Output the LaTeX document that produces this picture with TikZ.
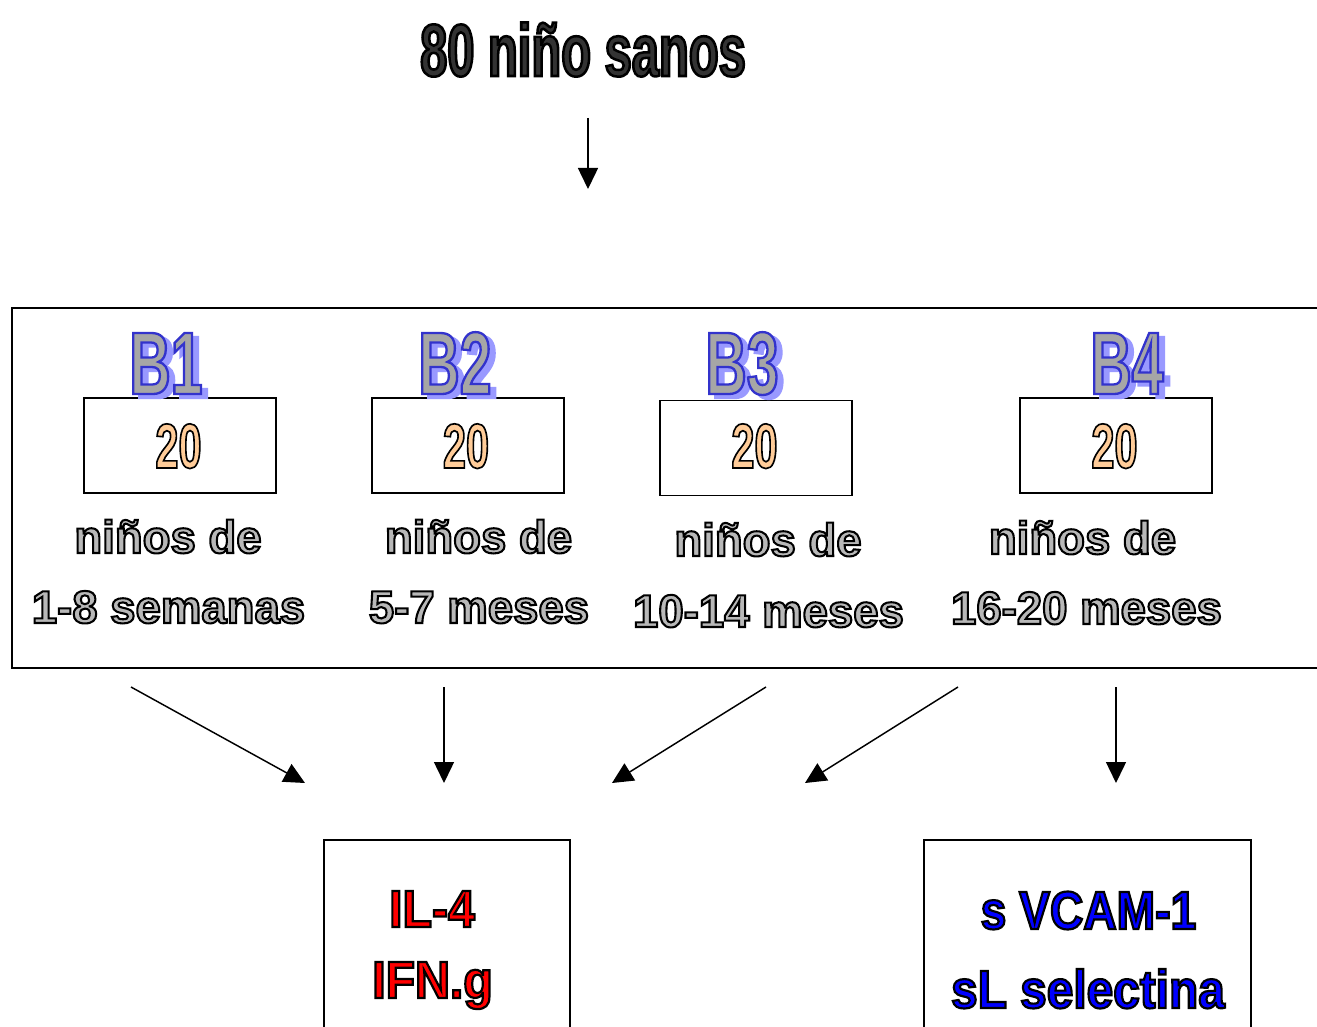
\documentclass[tikz,border=0pt]{standalone}
\usepackage{fontspec}
\usetikzlibrary{arrows.meta}
\newfontfamily\fTitle[FakeStretch=0.66,FakeBold=3.4]{Liberation Sans Bold}
\newfontfamily\fB[FakeStretch=0.645,FakeBold=2.6]{Liberation Sans Bold}
\newfontfamily\fNum[FakeStretch=0.655,FakeBold=2.6]{Liberation Sans Bold}
\newfontfamily\fGrp[FakeStretch=0.99,FakeBold=4.5]{Liberation Sans Bold}
\newfontfamily\fIL[FakeStretch=0.92,FakeBold=4.2]{Liberation Sans Bold}
\newfontfamily\fVC[FakeStretch=0.86,FakeBold=4.0]{Liberation Sans Bold}
\newfontfamily\fVCb[FakeStretch=0.89,FakeBold=4.0]{Liberation Sans Bold}
\definecolor{titlegray}{HTML}{333333}
\definecolor{grpgray}{HTML}{B8B8B8}
\definecolor{bgray}{HTML}{A6A6A6}
\definecolor{bshadow}{HTML}{9999FF}
\definecolor{peach}{HTML}{FFCC99}
\newcommand\outl[3]{{\color{#1}\special{pdf:code #2 RG}#3}}
\begin{document}
\begin{tikzpicture}[x=0.75pt,y=-0.75pt,
  arr/.style={-{Triangle[length=15.75pt,width=15pt]},line width=1.1pt},
  numbox/.style={draw,line width=1.2pt,minimum width=144pt,minimum height=71.25pt,inner sep=0pt},
  resbox/.style={draw,line width=1.5pt,inner sep=0pt},
  txt/.style={inner sep=0pt,anchor=base},
  ttl/.style={txt,font=\fTitle\fontsize{55.5}{60}\selectfont},
  blab/.style={txt,font=\fB\fontsize{66.5}{70}\selectfont},
  num/.style={txt,font=\fNum\fontsize{47.5}{50}\selectfont},
  grp/.style={txt,font=\fGrp\fontsize{34.5}{40}\selectfont},
  ilt/.style={txt,font=\fIL\fontsize{39.3}{44}\selectfont},
  vct/.style={txt,font=\fVC\fontsize{40.3}{44}\selectfont},
  vctb/.style={txt,font=\fVCb\fontsize{40.3}{44}\selectfont}]
\clip (0,0) rectangle (1317,1027);
\fill[white] (0,0) rectangle (1317,1027);

% title and first arrow
\node[ttl] (title) at (583,76) {\outl{titlegray}{0 0 0}{80 niño sanos}};
\coordinate (a0s) at (588,118);
\coordinate (a0e) at (588,189);
\draw[arr] (a0s) -- (a0e);

% big box
\node[resbox,minimum width=1000.5pt,minimum height=270pt] (big) at (679,488) {};

% group boxes
\node[numbox] (n1) at (180,445.5) {};
\node[numbox] (n2) at (468,445.5) {};
\node[numbox] (n3) at (756,448) {};
\node[numbox] (n4) at (1116,445.5) {};

% B labels (shadow then main)
\node[blab] (b1s) at (172,398) {\outl{bshadow}{0.6 0.6 1}{B1}};
\node[blab] (b1) at (166,394) {\outl{bgray}{0.2 0.2 0.8}{B1}};
\node[blab] (b2s) at (461,398) {\outl{bshadow}{0.6 0.6 1}{B2}};
\node[blab] (b2) at (455,394) {\outl{bgray}{0.2 0.2 0.8}{B2}};
\node[blab] (b3s) at (748,398) {\outl{bshadow}{0.6 0.6 1}{B3}};
\node[blab] (b3) at (742,394) {\outl{bgray}{0.2 0.2 0.8}{B3}};
\node[blab] (b4s) at (1133,398) {\outl{bshadow}{0.6 0.6 1}{B4}};
\node[blab] (b4) at (1127,394) {\outl{bgray}{0.2 0.2 0.8}{B4}};

% numbers
\node[num] (t1) at (178.5,468) {\outl{peach}{0 0 0}{20}};
\node[num] (t2) at (466,468) {\outl{peach}{0 0 0}{20}};
\node[num] (t3) at (754.5,468) {\outl{peach}{0 0 0}{20}};
\node[num] (t4) at (1114.5,468) {\outl{peach}{0 0 0}{20}};

% group descriptions
\node[grp] (g1a) at (168,553) {\outl{grpgray}{0 0 0}{niños de}};
\node[grp] (g2a) at (478.5,553) {\outl{grpgray}{0 0 0}{niños de}};
\node[grp] (g3a) at (768,556) {\outl{grpgray}{0 0 0}{niños de}};
\node[grp] (g4a) at (1082.5,554) {\outl{grpgray}{0 0 0}{niños de}};
\node[grp] (g1b) at (168.5,623) {\outl{grpgray}{0 0 0}{1-8 semanas}};
\node[grp] (g2b) at (479,623) {\outl{grpgray}{0 0 0}{5-7 meses}};
\node[grp] (g3b) at (768.5,627) {\outl{grpgray}{0 0 0}{10-14 meses}};
\node[grp] (g4b) at (1086.5,624) {\outl{grpgray}{0 0 0}{16-20 meses}};

% arrows to results
\coordinate (s1) at (131,687);  \coordinate (e1) at (305,783);
\coordinate (s2) at (444,687);  \coordinate (e2) at (444,783);
\coordinate (s3) at (766,687);  \coordinate (e3) at (612,783);
\coordinate (s4) at (958,687);  \coordinate (e4) at (805,783);
\coordinate (s5) at (1116,687); \coordinate (e5) at (1116,783);
\draw[arr] (s1) -- (e1);
\draw[arr] (s2) -- (e2);
\draw[arr] (s3) -- (e3);
\draw[arr] (s4) -- (e4);
\draw[arr] (s5) -- (e5);

% result boxes
\node[resbox,minimum width=184.5pt,minimum height=150pt] (r1) at (447,940) {};
\node[resbox,minimum width=245.25pt,minimum height=150pt] (r2) at (1087.5,940) {};
\node[ilt] (il4) at (432,927) {\outl{red}{0 0 0}{IL-4}};
\node[ilt] (ifn) at (432.5,998) {\outl{red}{0 0 0}{IFN.g}};
\node[vct] (vcam) at (1088.5,929) {\outl{blue}{0 0 0}{s VCAM-1}};
\node[vctb] (sel) at (1088,1008) {\outl{blue}{0 0 0}{sL selectina}};
\end{tikzpicture}
\end{document}
